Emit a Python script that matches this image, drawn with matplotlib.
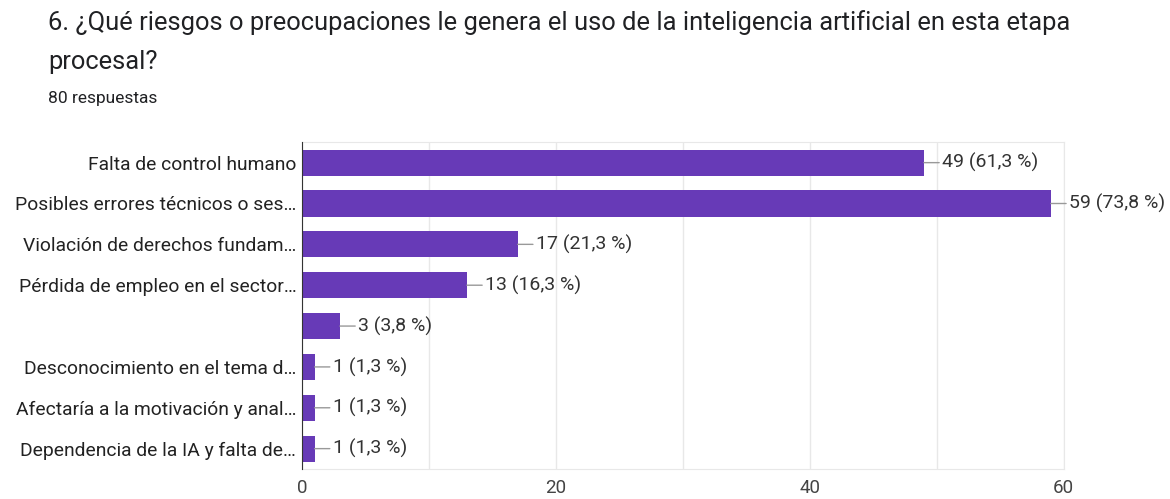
import matplotlib.pyplot as plt
import numpy as np

plt.rcParams['font.family'] = ['Roboto', 'DejaVu Sans']

categories = ['Falta de control humano',
              'Posibles errores técnicos o ses…',
              'Violación de derechos fundam…',
              'Pérdida de empleo en el sector…',
              '',
              'Desconocimiento en el tema d…',
              'Afectaría a la motivación y anal…',
              'Dependencia de la IA y falta de…']
counts = [49, 59, 17, 13, 3, 1, 1, 1]
percents = ['61,3', '73,8', '21,3', '16,3', '3,8', '1,3', '1,3', '1,3']

fig = plt.figure(figsize=(11.7, 4.99), dpi=100)
ax = fig.add_axes([0.258, 0.060, 0.651, 0.655])

y = np.arange(len(categories))
ax.barh(y, counts, height=0.64, color='#673ab7', zorder=3)

for i, (c, p) in enumerate(zip(counts, percents)):
    ax.annotate(f'{c} ({p} %)', xy=(c, i), xytext=(13, 0), textcoords='offset points',
                ha='left', va='center', fontsize=14, color='#333333',
                arrowprops=dict(arrowstyle='-', color='#999999', lw=1, shrinkA=0, shrinkB=0))

ax.set_xlim(0, 60)
ax.set_ylim(len(categories) - 0.5, -0.5)
ax.set_yticks(y)
ax.set_yticklabels(categories, fontsize=13.9, color='#222222')
ax.set_xticks([0, 20, 40, 60])
ax.set_xticklabels(['0', '20', '40', '60'], fontsize=13.5, color='#444444')
ax.set_xticks([10, 30, 50], minor=True)
ax.grid(axis='x', which='both', color='#e8e8e8', lw=1, zorder=0)
ax.tick_params(axis='both', which='both', length=0)
ax.tick_params(axis='y', pad=4)
ax.tick_params(axis='x', pad=7)

for s in ['top', 'right', 'bottom']:
    ax.spines[s].set_color('#e8e8e8')
ax.spines['left'].set_color('#333333')
ax.spines['left'].set_zorder(4)

fig.text(0.041, 0.955, '6. ¿Qué riesgos o preocupaciones le genera el uso de la inteligencia artificial en esta etapa',
         fontsize=18.4, color='#202124', va='center')
fig.text(0.041, 0.875, 'procesal?', fontsize=18.4, color='#202124', va='center')
fig.text(0.041, 0.803, '80 respuestas', fontsize=12.5, color='#202124', va='center')

fig.savefig('out.png', dpi=100)
